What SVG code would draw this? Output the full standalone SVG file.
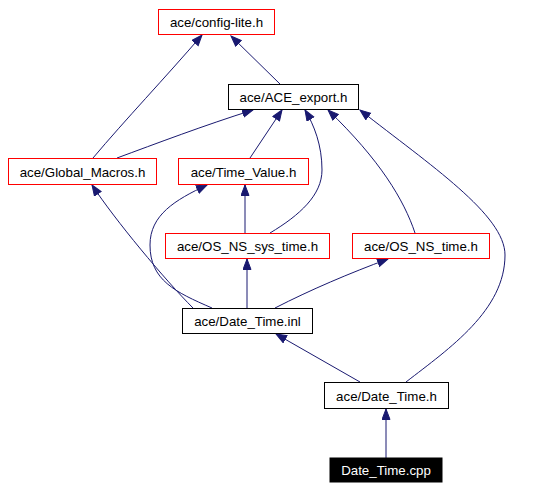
<svg xmlns="http://www.w3.org/2000/svg" width="546" height="490" viewBox="0 0 546 490">
<style>
.n rect{fill:#fff;stroke:#ff0000;stroke-width:1}
.n.b rect{stroke:#000}
.n.s rect{fill:#000;stroke:#000}
.n text{font-family:"Liberation Sans",Arial,sans-serif;font-size:13.3px;text-anchor:middle;fill:#000}
.n.s text{fill:#fff}
#edges path{fill:none;stroke:#191970;stroke-width:1;marker-end:url(#a)}
</style>
<defs>
<marker id="a" markerWidth="13" markerHeight="10" refX="11" refY="4.5" orient="auto" markerUnits="userSpaceOnUse">
<path d="M0.5,0.5 L11,4.5 L0.5,8.5 z" fill="#191970" stroke="#191970" stroke-width="1"/>
</marker>
</defs>
<rect width="546" height="490" fill="#fff"/>
<g id="edges">
<path d="M93,158 C125,120 165,78 202,35"/>
<path d="M280,84 L231,36"/>
<path d="M117,158 C155,144 205,125 253,110"/>
<path d="M250,158 L282,110"/>
<path d="M270,233 C300,215 322,195 322,170 C322,145 314,125 305,110"/>
<path d="M415,233 C404,200 380,160 328,110"/>
<path d="M406,382 C450,348 505,310 505,255 C505,215 430,165 360,110"/>
<path d="M193,308 C165,280 115,220 92,185"/>
<path d="M212,308 C175,292 150,280 150,245 C150,215 175,200 207,185"/>
<path d="M247,308 L247,259"/>
<path d="M275,308 C310,290 350,273 388,259"/>
<path d="M245,233 L245,185"/>
<path d="M360,382 L276,334"/>
<path d="M386,458 L386,409"/>
</g>
<g id="config-lite" class="n"><rect x="158.5" y="9.5" width="116" height="25"/><text x="216.5" y="27">ace/config-lite.h</text></g>
<g id="ACE_export" class="n b"><rect x="228.5" y="84.5" width="130" height="25"/><text x="293.5" y="102">ace/ACE_export.h</text></g>
<g id="Global_Macros" class="n"><rect x="8.5" y="158.5" width="148" height="26"/><text x="82.5" y="176.5">ace/Global_Macros.h</text></g>
<g id="Time_Value" class="n"><rect x="178.5" y="158.5" width="130" height="26"/><text x="243.5" y="176.5">ace/Time_Value.h</text></g>
<g id="OS_NS_sys_time" class="n"><rect x="165.5" y="233.5" width="164" height="25"/><text x="247.5" y="251">ace/OS_NS_sys_time.h</text></g>
<g id="OS_NS_time" class="n"><rect x="352.5" y="233.5" width="137" height="25"/><text x="421" y="251">ace/OS_NS_time.h</text></g>
<g id="Date_Time_inl" class="n b"><rect x="182.5" y="308.5" width="130" height="25"/><text x="247.5" y="326">ace/Date_Time.inl</text></g>
<g id="Date_Time_h" class="n b"><rect x="324.5" y="382.5" width="124" height="26"/><text x="386.5" y="400.5">ace/Date_Time.h</text></g>
<g id="Date_Time_cpp" class="n s"><rect x="330" y="458" width="112" height="24"/><text x="386" y="475">Date_Time.cpp</text></g>
</svg>
